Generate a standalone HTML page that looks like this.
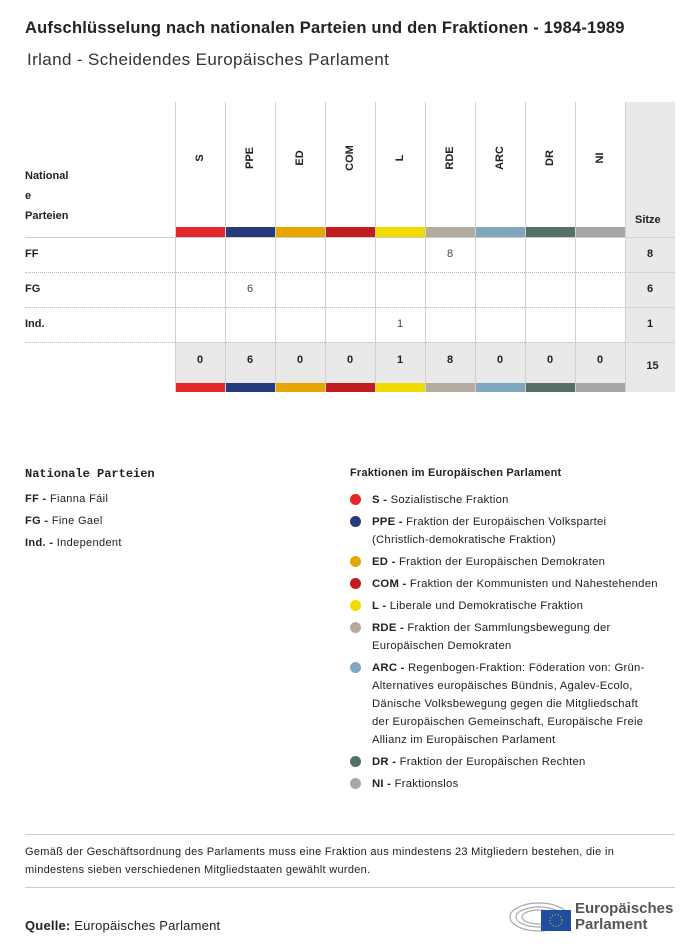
<!DOCTYPE html>
<html><head><meta charset="utf-8"><style>
body{margin:0;width:700px;height:952px;background:#fff;font-family:"Liberation Sans",sans-serif;color:#222;position:relative;overflow:hidden}
.a{position:absolute}
.t{font-size:11px;white-space:nowrap;letter-spacing:.35px}
.b{font-weight:bold}
.leg{position:absolute;left:372px;font-size:11.3px;line-height:18px;width:305px;letter-spacing:.25px}
.dot{position:absolute;left:350px;width:11px;height:11px;border-radius:50%}
</style></head><body>
<div class="a b" style="left:25px;top:19px;font-size:16.5px;letter-spacing:.22px">Aufschlüsselung nach nationalen Parteien und den Fraktionen - 1984-1989</div>
<div class="a" style="left:27px;top:50px;font-size:17px;letter-spacing:.38px;color:#333">Irland - Scheidendes Europäisches Parlament</div>
<div id="tbl"></div>
<div class="a b" style="left:25px;top:467px;font-size:12px;font-family:'Liberation Mono',monospace">Nationale Parteien</div>
<div class="a t" style="left:25px;top:493px"><b>FF - </b>Fianna Fáil</div>
<div class="a t" style="left:25px;top:515px"><b>FG - </b>Fine Gael</div>
<div class="a t" style="left:25px;top:537px"><b>Ind. - </b>Independent</div>
<div class="a t b" style="left:350px;top:467px;letter-spacing:.2px">Fraktionen im Europäischen Parlament</div>
<div id="leg"></div>
<div class="a" style="left:25px;top:834px;width:650px;height:1px;background:#ccc"></div>
<div class="a" style="left:25px;top:843px;width:640px;font-size:11px;line-height:18px;letter-spacing:.3px">Gemäß der Geschäftsordnung des Parlaments muss eine Fraktion aus mindestens 23 Mitgliedern bestehen, die in mindestens sieben verschiedenen Mitgliedstaaten gewählt wurden.</div>
<div class="a" style="left:25px;top:887px;width:650px;height:1px;background:#ccc"></div>
<div class="a" style="left:25px;top:918px;font-size:13px;letter-spacing:.2px"><b>Quelle:</b> Europäisches Parlament</div>
<div class="a" style="left:509px;top:897px;width:170px;height:40px">
<svg width="64" height="40" style="position:absolute;left:0;top:0"><g fill="none" stroke="#aaa" stroke-width="1.2"><ellipse cx="30" cy="20" rx="29" ry="14"/><ellipse cx="30" cy="20" rx="23" ry="10"/><ellipse cx="30" cy="20" rx="17" ry="7"/></g><rect x="32" y="13" width="30" height="21" fill="#1f4da0"/><circle cx="47" cy="23.5" r="6" fill="none" stroke="#f5d300" stroke-dasharray="1 2"/></svg>
<div class="a b" style="left:66px;top:4px;font-size:15px;line-height:16px;color:#555">Europäisches<br>Parlament</div></div>
<script>
const groups=["S","PPE","ED","COM","L","RDE","ARC","DR","NI"];
const colors=["#e2282a","#263a7e","#e6a600","#c11d1f","#f2dc00","#b3aaa0","#7fa8c0","#546e68","#a7a7a7"];
const parties=["FF","FG","Ind."];
const seats=[[0,0,0,0,0,8,0,0,0],[0,6,0,0,0,0,0,0,0],[0,0,0,0,1,0,0,0,0]];
const T=document.getElementById('tbl');
function d(css,txt){const e=document.createElement('div');e.className='a';e.style.cssText=css;if(txt!==undefined)e.textContent=txt;T.appendChild(e);return e;}
const x0=175,cw=50,rowY=[237,272,307],rh=35;
let e=d('left:625px;top:102px;width:50px;height:290px;background:#e9e9e9');

e=d('left:175px;top:342px;width:450px;height:41px;background:#e9e9e9');

e=d('left:25px;top:166px;font-size:11px;font-weight:bold;line-height:20px','');e.innerHTML='National<br>e<br>Parteien';

e=d('left:635px;top:214px;font-size:11px;font-weight:bold','Sitze');

e=d('left:25px;top:237px;width:600px;height:1px;background:#ccc');

e=d('left:625px;top:237px;width:50px;height:1px;background:#d5d5d5');
for(let i=0;i<=groups.length;i++){e=d(`left:${x0+i*cw}px;top:102px;width:1px;height:290px;background:#d0d0d0`);
}
const tot=groups.map((g,j)=>seats.reduce((s,r)=>s+r[j],0));
groups.forEach((g,j)=>{const x=x0+j*cw;
e=d(`left:${x+cw/2-40}px;top:152px;width:80px;text-align:center;font-size:11px;font-weight:bold;transform:rotate(-90deg)`,g);

e=d(`left:${x+1}px;top:227px;width:${cw-1}px;height:10px;background:${colors[j]}`);

e=d(`left:${x+1}px;top:383px;width:${cw-1}px;height:9px;background:${colors[j]}`);

e=d(`left:${x}px;top:354px;width:${cw}px;text-align:center;font-size:11px;font-weight:bold`,tot[j]);
});
parties.forEach((p,i)=>{const y=rowY[i];
e=d(`left:25px;top:${y+11}px;font-size:11px;font-weight:bold`,p);

e=d(`left:25px;top:${y+rh}px;width:600px;height:0;border-top:1px dotted #bbb`);

e=d(`left:625px;top:${y+rh}px;width:50px;height:1px;background:#d5d5d5`);
seats[i].forEach((v,j)=>{if(v){e=d(`left:${x0+j*cw}px;top:${y+11}px;width:${cw}px;text-align:center;font-size:11px;color:#444`,v);
}});
const s=seats[i].reduce((a,b)=>a+b,0);
e=d(`left:625px;top:${y+11}px;width:50px;text-align:center;font-size:11px;font-weight:bold`,s);
});
e=d(`left:625px;top:360px;width:55px;text-align:center;font-size:11px;font-weight:bold`,tot.reduce((a,b)=>a+b,0));

const L=document.getElementById('leg');
const legTxt=["Sozialistische Fraktion","Fraktion der Europäischen Volkspartei<br>(Christlich\u2011demokratische Fraktion)","Fraktion der Europäischen Demokraten","Fraktion der Kommunisten und Nahestehenden","Liberale und Demokratische Fraktion","Fraktion der Sammlungsbewegung der<br>Europäischen Demokraten","Regenbogen-Fraktion: Föderation von: Grün-<br>Alternatives europäisches Bündnis, Agalev-Ecolo,<br>Dänische Volksbewegung gegen die Mitgliedschaft<br>der Europäischen Gemeinschaft, Europäische Freie<br>Allianz im Europäischen Parlament","Fraktion der Europäischen Rechten","Fraktionslos"];
const legY=[491,513,553,575,597,619,659,753,775];
groups.forEach((g,j)=>{
const dt=document.createElement('div');dt.className='dot';dt.style.top=(legY[j]+3)+'px';dt.style.background=colors[j];

L.appendChild(dt);
const t=document.createElement('div');t.className='leg';t.style.top=legY[j]+'px';t.style.whiteSpace='nowrap';t.innerHTML='<b>'+g+' - </b>'+legTxt[j];

L.appendChild(t);});
</script>
</body></html>
